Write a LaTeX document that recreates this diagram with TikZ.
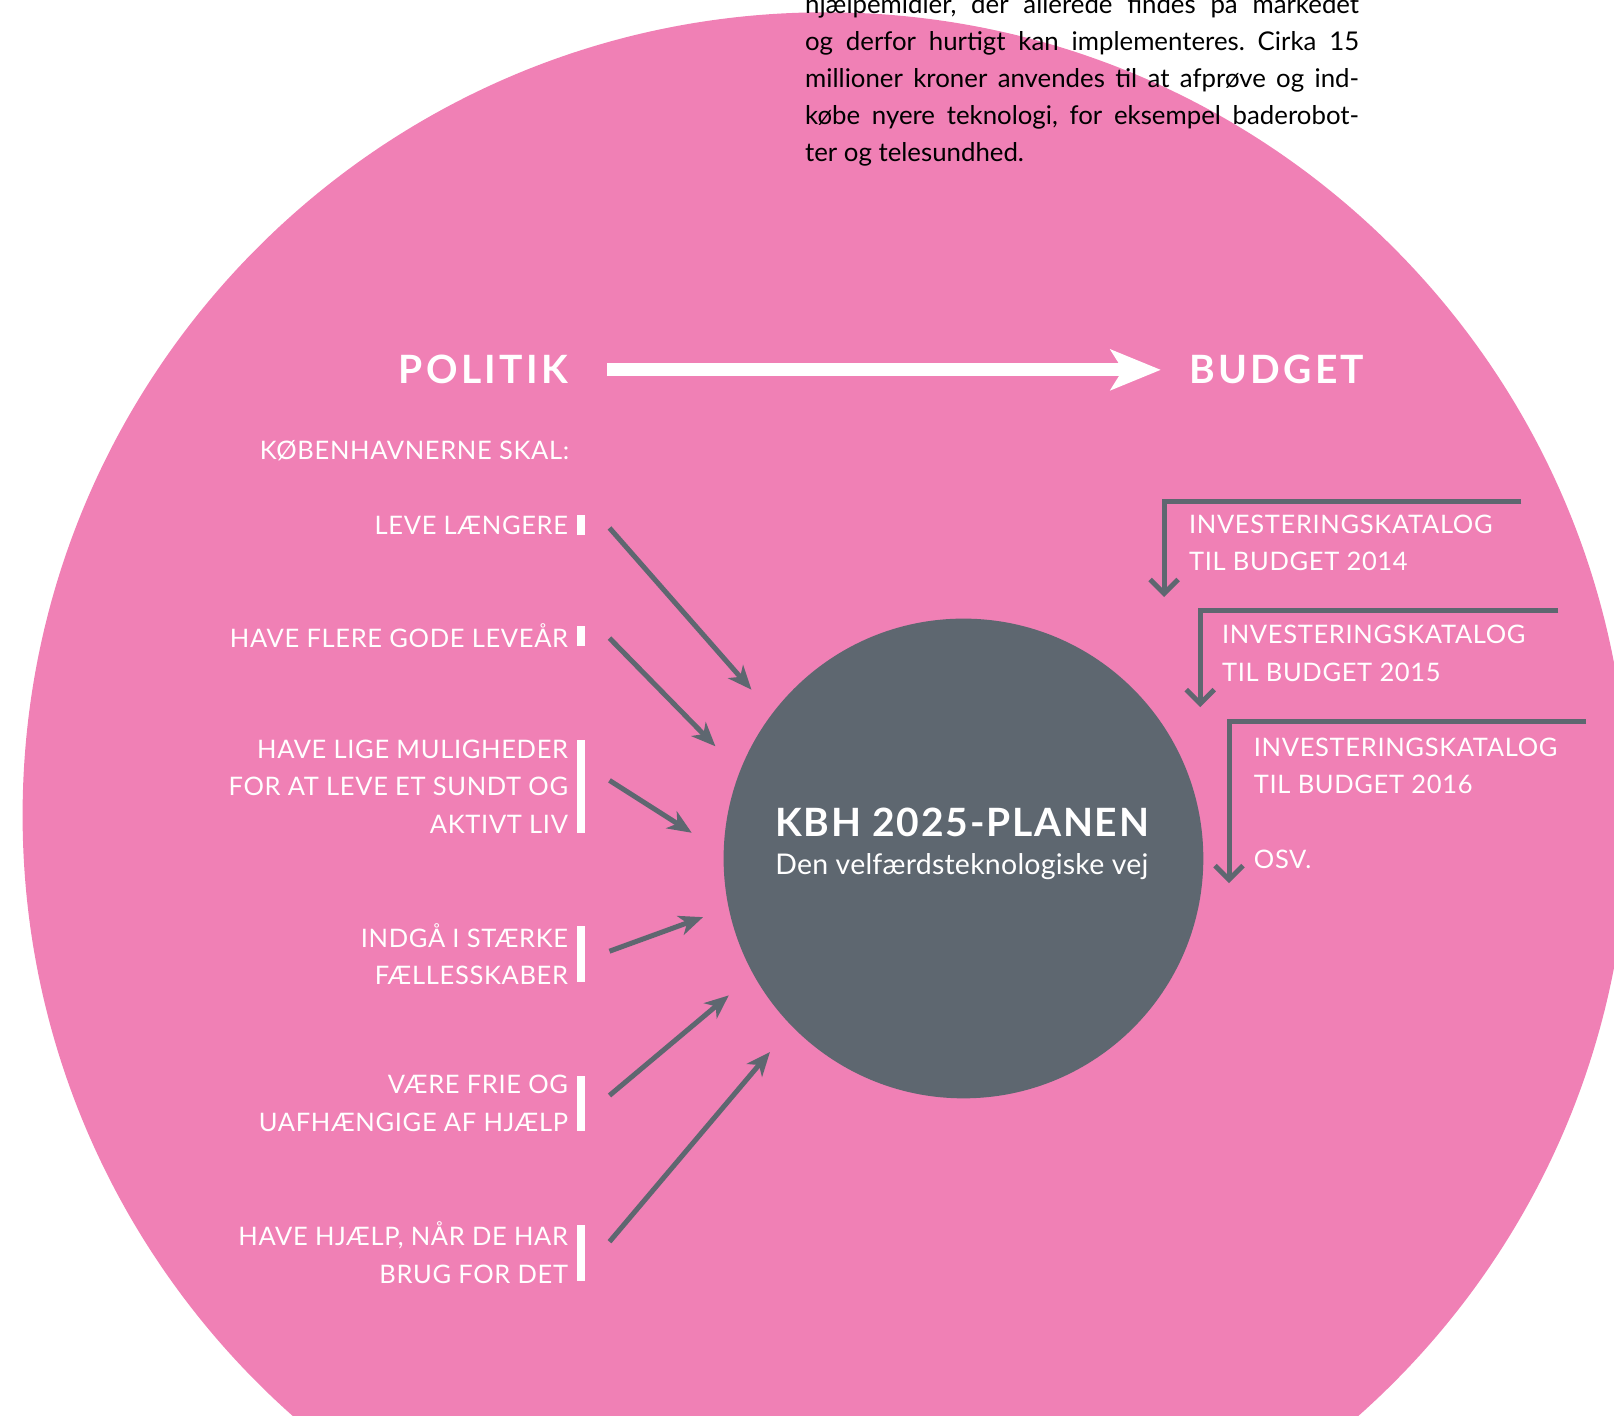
\documentclass[tikz,border=0pt]{standalone}
\usepackage{fontspec}
\setmainfont{Lato}
\usetikzlibrary{arrows.meta,positioning}
\definecolor{kbhpink}{RGB}{240,128,181}
\definecolor{kbhgray}{RGB}{94,103,112}
\frenchspacing

\begin{document}
\begin{tikzpicture}[
    x=1.0293pt, y=-1.0293pt,
    goal/.style={anchor=east, align=right, inner sep=0pt, text=white, font=\fontsize{25.5}{37.6}\selectfont\addfontfeature{LetterSpace=2.6}},
    katalog/.style={anchor=west, align=left, inner sep=0pt, text=white, font=\fontsize{25.5}{37.6}\selectfont\addfontfeature{LetterSpace=2.6}},
    headline/.style={inner sep=0pt, text=white, font=\bfseries\fontsize{39}{42}\selectfont\addfontfeature{LetterSpace=8.6}},
    bar/.style={fill=white, inner sep=0pt, minimum width=7.2pt, minimum height=#1},
    arrow/.style={draw=kbhgray, line width=5pt, -{Stealth[length=24pt, width=20pt, inset=7pt]}},
    bracket/.style={draw=kbhgray, line width=5pt, -{Straight Barb[length=14pt, width=28pt]}},
    bigarrow/.style={draw=white, line width=13pt, -{Stealth[length=50pt, width=40pt, inset=12pt]}}
]
\useasboundingbox (0,0) rectangle (1568,1374.7);

% background disc and plan
\fill[kbhpink] (802,792) circle[radius=802.9pt];
\node[circle, fill=kbhgray, minimum size=479.7pt, inner sep=0pt] (plan) at (936,834) {};
\node[anchor=base west, inner sep=0pt, text=white, font=\bfseries\fontsize{39}{42}\selectfont\addfontfeature{LetterSpace=4.5}] (title) at (753,813) {KBH 2025-PLANEN};
\node[anchor=base west, inner sep=0pt, text=white, font=\fontsize{28.5}{30}\selectfont\addfontfeature{LetterSpace=0.8}] (subtitle) at (753,850) {Den velfærdsteknologiske vej};

% text above
\node[anchor=north west, inner sep=0pt, align=left, font=\fontsize{25.8}{36.9}\selectfont] (info) at (782,-5.6) {%
\makebox[554pt][s]{hjælpemidler, der allerede findes på markedet}\\
\makebox[554pt][s]{og derfor hurtigt kan implementeres. Cirka 15}\\
\makebox[554pt][s]{millioner kroner anvendes til at afprøve og ind-}\\
\makebox[554pt][s]{købe nyere teknologi, for eksempel baderobot-}\\
ter og telesundhed.};

% politik -> budget
\node[headline, anchor=base east] (politik) at (552,373) {POLITIK};
\node[headline, anchor=base west] (budget) at (1155,373) {BUDGET};
\draw[bigarrow] ([xshift=39pt]politik.east) -- ([xshift=-28pt]budget.west);

% goals
\node[goal, anchor=base east] (kbh) at (553,446) {KØBENHAVNERNE SKAL:};
\node[goal] (g1) at (552,510) {LEVE LÆNGERE};
\node[goal] (g2) at (552,618) {HAVE FLERE GODE LEVEÅR};
\node[goal] (g3) at (552,764) {HAVE LIGE MULIGHEDER\\FOR AT LEVE ET SUNDT OG\\AKTIVT LIV};
\node[goal] (g4) at (552,927) {INDGÅ I STÆRKE\\FÆLLESSKABER};
\node[goal] (g5) at (552,1072) {VÆRE FRIE OG\\UAFHÆNGIGE AF HJÆLP};
\node[goal] (g6) at (552,1217) {HAVE HJÆLP, NÅR DE HAR\\BRUG FOR DET};

\node[bar=20.6pt, right=9pt of g1] (b1) {};
\node[bar=20.6pt, right=9pt of g2] (b2) {};
\node[bar=93.7pt, right=9pt of g3] (b3) {};
\node[bar=55.6pt, right=9pt of g4] (b4) {};
\node[bar=55.6pt, right=9pt of g5] (b5) {};
\node[bar=55.6pt, right=9pt of g6] (b6) {};

\coordinate (h1) at (730,670);
\coordinate (h2) at (695,725);
\coordinate (h3) at (672,809);
\coordinate (h4) at (683,891);
\coordinate (h5) at (708,967);
\coordinate (h6) at (748,1022);

\draw[arrow] ([xshift=24.7pt, yshift=-3pt]b1.east) -- (h1);
\draw[arrow] ([xshift=24.7pt, yshift=-2pt]b2.east) -- (h2);
\draw[arrow] ([xshift=24.7pt, yshift=6pt]b3.east) -- (h3);
\draw[arrow] ([xshift=24.7pt, yshift=3pt]b4.east) -- (h4);
\draw[arrow] ([xshift=24.7pt, yshift=8pt]b5.east) -- (h5);
\draw[arrow] ([xshift=24.7pt, yshift=11pt]b6.east) -- (h6);

% budgets
\node[katalog] (k14) at (1155,527.5) {INVESTERINGSKATALOG\\TIL BUDGET 2014};
\node[katalog] (k15) at (1187,635) {INVESTERINGSKATALOG\\TIL BUDGET 2015};
\node[katalog] (k16) at (1218,744) {INVESTERINGSKATALOG\\TIL BUDGET 2016};
\node[katalog] (osv) at (1218,835) {OSV.};

\coordinate (c14) at (1478,487);
\coordinate (d14) at (1131,580);
\coordinate (c15) at (1514,593);
\coordinate (d15) at (1166,687);
\coordinate (c16) at (1541,701);
\coordinate (d16) at (1194,858);

\draw[bracket] (c14) -| (d14);
\draw[bracket] (c15) -| (d15);
\draw[bracket] (c16) -| (d16);

\end{tikzpicture}
\end{document}
